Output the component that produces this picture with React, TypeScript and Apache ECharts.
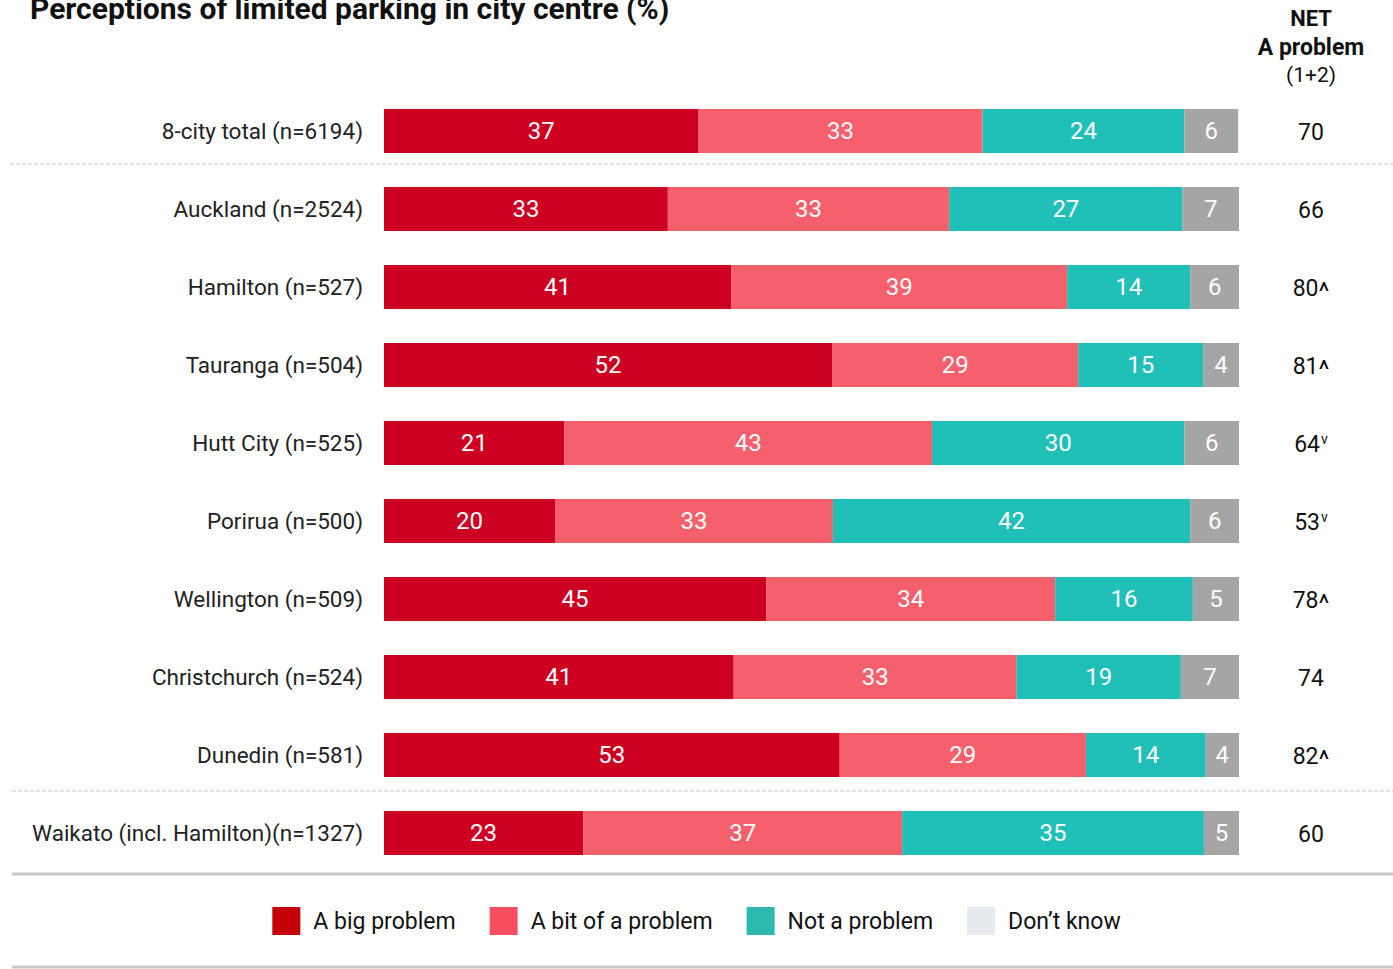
import React, { useEffect, useRef } from "react";
import * as echarts from "echarts";

const categories = [
  "8-city total (n=6194)",
  "Auckland (n=2524)",
  "Hamilton (n=527)",
  "Tauranga (n=504)",
  "Hutt City (n=525)",
  "Porirua (n=500)",
  "Wellington (n=509)",
  "Christchurch (n=524)",
  "Dunedin (n=581)",
  "Waikato (incl. Hamilton)(n=1327)",
];
// Values (labels show them rounded)
const bigProblem = [36.8, 33.2, 40.6, 52.4, 21.1, 20.0, 44.7, 40.9, 53.3, 23.3];
const bitOfProblem = [33.2, 32.9, 39.3, 28.8, 43.0, 32.5, 33.8, 33.1, 28.8, 37.3];
const notProblem = [23.6, 27.3, 14.4, 14.6, 29.5, 41.8, 16.1, 19.2, 14.0, 35.3];
const dontKnow = [6.3, 6.7, 5.7, 4.2, 6.4, 5.7, 5.4, 6.8, 3.9, 4.6];
const netValues = [70, 66, 80, 81, 64, 53, 78, 74, 82, 60];
const netMarks = ["", "", "^", "^", "v", "v", "^", "", "^", ""];

const seriesNames = ["A big problem", "A bit of a problem", "Not a problem", "Don\u2019t know"];
const barColors = ["#CE0022", "#F6606D", "#20C0B8", "#A5A5A5"];
const legendColors = ["#C40008", "#F74F60", "#2BB9B0", "#E6E9EE"];

const FONT = "Roboto";

export default function App() {
  const ref = useRef<HTMLDivElement>(null);
  useEffect(() => {
    const chart = echarts.init(ref.current!, null, { renderer: "svg" });
    const seriesData = [bigProblem, bitOfProblem, notProblem, dontKnow];
    chart.setOption({
      animation: false,
      textStyle: { fontFamily: FONT },
      grid: { left: 384, right: 154, top: 92, height: 780, containLabel: false },
      xAxis: { type: "value", min: 0, max: 100, show: false },
      yAxis: [
        {
          type: "category",
          data: categories,
          inverse: true,
          axisLine: { show: false },
          axisTick: { show: false },
          axisLabel: { color: "#222", fontSize: 22.5, margin: 21, fontFamily: FONT },
        },
        {
          type: "category",
          data: categories,
          inverse: true,
          position: "right",
          axisLine: { show: false },
          axisTick: { show: false },
          axisLabel: {
            margin: 72,
            align: "center",
            formatter: (_v: string, i: number) => {
              const m = netMarks[i];
              if (m === "^") return `{n|${netValues[i]}}{c|^}`;
              if (m === "v") return `{n|${netValues[i]}}{s|v}`;
              return `{n|${netValues[i]}}`;
            },
            rich: {
              n: { fontSize: 23, color: "#111", fontFamily: FONT, padding: [2, 0, 0, 0] },
              c: { fontSize: 26, color: "#111", fontFamily: FONT, padding: [8, 0, 0, 0] },
              s: { fontSize: 14, color: "#111", fontFamily: FONT, padding: [0, 0, 8, 1] },
            },
          },
        },
      ],
      legend: {
        show: true,
        bottom: 29,
        left: "center",
        itemWidth: 28,
        itemHeight: 28,
        itemGap: 34,
        icon: "rect",
        textStyle: { fontSize: 23, color: "#111", fontFamily: FONT, padding: [0, 0, 0, 8] },
        data: seriesNames.map((n, i) => ({ name: n, itemStyle: { color: legendColors[i] } })),
        selectedMode: false,
      },
      series: seriesNames.map((name, k) => ({
        name,
        type: "bar",
        stack: "total",
        barWidth: 44,
        yAxisIndex: 0,
        itemStyle: { color: barColors[k] },
        label: {
          show: true,
          position: "inside",
          color: "#fff",
          fontSize: 24,
          fontFamily: FONT,
          formatter: (p: any) => String(Math.round(p.value)),
        },
        data: seriesData[k],
      })),
      graphic: [
        {
          type: "text",
          left: 30,
          top: -7,
          style: {
            text: "Perceptions of limited parking in city centre (%)",
            fontSize: 30,
            fontWeight: "bold",
            fill: "#111",
            fontFamily: FONT,
          },
        },
        {
          type: "text",
          x: 1311,
          y: 18,
          style: { text: "NET", fontSize: 22, fontWeight: "bold", fill: "#111", align: "center", verticalAlign: "middle", fontFamily: FONT },
        },
        {
          type: "text",
          x: 1311,
          y: 47,
          style: { text: "A problem", fontSize: 23, fontWeight: "bold", fill: "#111", align: "center", verticalAlign: "middle", fontFamily: FONT },
        },
        {
          type: "text",
          x: 1311,
          y: 75,
          style: { text: "(1+2)", fontSize: 21, fill: "#111", align: "center", verticalAlign: "middle", fontFamily: FONT },
        },
        {
          type: "line",
          shape: { x1: 10, y1: 164, x2: 1393, y2: 164 },
          style: { stroke: "#C8C8C8", lineWidth: 1, lineDash: [4, 2] },
        },
        {
          type: "line",
          shape: { x1: 12, y1: 791, x2: 1393, y2: 791 },
          style: { stroke: "#C8C8C8", lineWidth: 1, lineDash: [4, 2] },
        },
        {
          type: "line",
          shape: { x1: 12, y1: 874, x2: 1393, y2: 874 },
          style: { stroke: "#C8C8C8", lineWidth: 3 },
        },
        {
          type: "line",
          shape: { x1: 12, y1: 967, x2: 1393, y2: 967 },
          style: { stroke: "#C8C8C8", lineWidth: 3 },
        },
      ],
    });
    return () => chart.dispose();
  }, []);
  return (
    <div
      ref={ref}
      style={{ position: "fixed", left: 0, top: 0, width: 1393, height: 969, background: "#fff" }}
    />
  );
}
